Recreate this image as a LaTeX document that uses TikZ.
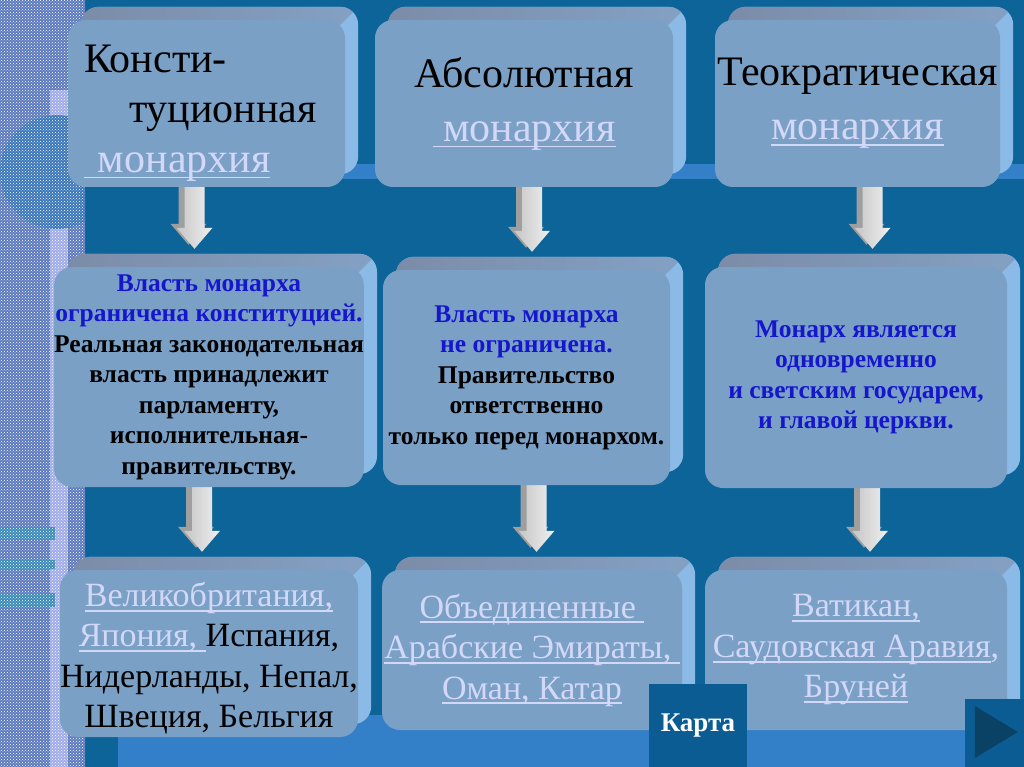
\documentclass[tikz,border=0pt]{standalone}
\usepackage{fontspec}
\setmainfont{Liberation Serif}
\usetikzlibrary{calc,patterns}

\definecolor{bgdark}{RGB}{12,100,152}
\definecolor{bgband}{RGB}{52,128,200}
\definecolor{stripbase}{RGB}{92,122,190}
\definecolor{stripglow}{RGB}{160,172,234}
\definecolor{stripdisc}{RGB}{58,118,186}
\definecolor{stripbar}{RGB}{58,138,184}
\definecolor{boxfront}{RGB}{122,160,198}
\definecolor{boxtop}{RGB}{124,140,168}
\definecolor{boxside}{RGB}{140,186,230}
\definecolor{linkcol}{RGB}{212,216,248}
\definecolor{leadblue}{RGB}{22,22,205}
\definecolor{navbox}{RGB}{10,92,146}
\definecolor{navtri}{RGB}{10,66,102}

% underlined link text
\newsavebox{\lnkbox}
\newcommand\lnk[1]{\leavevmode{\color{linkcol}\sbox{\lnkbox}{#1}\rlap{\rule[-.15em]{\wd\lnkbox}{1.8pt}}\usebox{\lnkbox}}}

\pgfdeclarelayer{back}
\pgfdeclarelayer{mid}
\pgfsetlayers{back,mid,main}

\tikzset{
  box/.style={fill=boxfront, rounded corners=18pt, inner sep=0pt},
  headfont/.style={font=\fontsize{42}{54}\selectfont},
  notefont/.style={font=\bfseries\fontsize{25.5}{30.5}\selectfont},
  landfont/.style={font=\fontsize{34}{40.5}\selectfont},
  navbtn/.style={fill=navbox, inner sep=0pt}
}

% 3D slab behind a box: light right face, grey top face
\newcommand\extrude[1]{%
  \fill[boxside, rounded corners=18pt] ($(#1.south west)+(13,-13)$) rectangle ($(#1.north east)+(13,-13)$);
  \begin{scope}
    \clip ($(#1.north east)+(30,-30)$) -- ($(#1.north east)+(-1000,-30)$) -- ($(#1.north east)+(-1000,1000)$) -- cycle;
    \shade[left color=boxtop, right color=boxtop!55!boxside, rounded corners=18pt] ($(#1.south west)+(13,-13)$) rectangle ($(#1.north east)+(13,-13)$);
  \end{scope}}

% grey block arrow, S = start, T = tip
\newcommand\arrowshape[2]{($(S)+(-10+#1,#2)$) -- ($(T)+(-10+#1,-21+#2)$) -- ($(T)+(-18+#1,-21+#2)$) -- ($(T)+(#1,#2)$) -- ($(T)+(18+#1,-21+#2)$) -- ($(T)+(10+#1,-21+#2)$) -- ($(S)+(10+#1,#2)$) -- cycle}
\newcommand\blockarrow[3]{%
  \coordinate (S) at ($(#1.south)+(#3,-6)$);
  \coordinate (T) at ($(S |- #2.north)+(0,-18)$);
  \fill[gray!75] \arrowshape{-6}{-4};
  \shade[left color=gray!45, right color=gray!12] \arrowshape{0}{0};}

\begin{document}
\begin{tikzpicture}[x=1pt, y=-1pt]
\useasboundingbox (0,0) rectangle (1024,767);

% backdrop
\begin{pgfonlayer}{back}
\fill[bgdark] (0,0) rectangle (1024,767);
\fill[bgband] (85,164) rectangle (1024,179);
\fill[bgband] (118,715) rectangle (1024,767);
\begin{scope}
  \clip (0,0) rectangle (85,767);
  \fill[stripbase] (0,0) rectangle (85,767);
  \fill[stripglow] (50,90) rectangle (68,767);
  \fill[stripdisc] (57,172) circle (57);
  \fill[stripbar] (0,527) rectangle (55,540);
  \fill[stripbar] (0,560) rectangle (55,569);
  \fill[stripbar] (0,593) rectangle (55,607);
  \fill[pattern=crosshatch dots, pattern color=white!45] (0,0) rectangle (85,767);
\end{scope}
\end{pgfonlayer}

% Row 1 — kinds of monarchy
\node[box, font=\fontsize{42}{50}\selectfont, minimum width=277pt, minimum height=167pt, text width=245pt, align=left] (constkind) at (206.5,103.5)
  {\rule{0pt}{46pt}Консти-\\\hspace*{45pt}туционная\\\lnk{\ монархия}};
\node[box, headfont, minimum width=298pt, minimum height=167pt, align=center] (abskind) at (524,103.5)
  {Абсолютная\\\lnk{\ монархия}};
\node[box, headfont, minimum width=285pt, minimum height=167pt, align=center] (theokind) at (857.5,103.5)
  {Теократическая\\\lnk{монархия}};

% Row 2 — power of the monarch
\node[box, notefont, minimum width=298pt, minimum height=220pt, align=center] (constpower) at (209,377)
  {\textcolor{leadblue}{Власть монарха}\\\textcolor{leadblue}{ограничена конституцией.}\\Реальная законодательная\\власть принадлежит\\парламенту,\\исполнительная-\\правительству.};
\node[box, notefont, minimum width=287pt, minimum height=215pt, align=center] (abspower) at (526.5,377.5)
  {\textcolor{leadblue}{Власть монарха}\\\textcolor{leadblue}{не ограничена.}\\Правительство\\ответственно\\только перед монархом.};
\node[box, notefont, text=leadblue, minimum width=302pt, minimum height=221pt, align=center] (theopower) at (856,377.5)
  {Монарх является\\одновременно\\и светским государем,\\и главой церкви.};

% Row 3 — countries
\node[box, landfont, minimum width=298pt, minimum height=167pt, align=center] (constlands) at (209,653.5)
  {\rule{0pt}{34pt}\lnk{Великобритания,}\\\lnk{Япония, }Испания,\\Нидерланды, Непал,\\Швеция, Бельгия};
\node[box, landfont, minimum width=300pt, minimum height=160pt, align=center] (abslands) at (532,650)
  {\lnk{Объединенные }\\\lnk{Арабские Эмираты, }\\\lnk{Оман, Катар}};
\node[box, landfont, minimum width=302pt, minimum height=160pt, align=center] (theolands) at (856,650)
  {\lnk{Ватикан,}\\\lnk{Саудовская Аравия}\textcolor{linkcol}{,}\\\lnk{Бруней}};

% slabs and arrows behind the boxes
\begin{pgfonlayer}{mid}
\foreach \b in {constkind,abskind,theokind,constpower,abspower,theopower,constlands,abslands,theolands}
  {\extrude{\b}}
\blockarrow{constkind}{constpower}{-12}
\blockarrow{abskind}{abspower}{8}
\blockarrow{theokind}{theopower}{15}
\blockarrow{constpower}{constlands}{-7}
\blockarrow{abspower}{abslands}{10}
\blockarrow{theopower}{theolands}{14}
\end{pgfonlayer}

% navigation buttons
\node[navbtn, minimum width=98pt, minimum height=83pt, text=white, font=\bfseries\fontsize{27}{27}\selectfont] (mapbtn) at (698,725.5) {Карта};
\node[navbtn, minimum width=59pt, minimum height=68pt] (nextbtn) at (994.5,733) {};
\fill[navtri] ($(nextbtn.west)+(10,-27)$) -- ($(nextbtn.west)+(10,25)$) -- ($(nextbtn.west)+(53,-1)$) -- cycle;

\end{tikzpicture}
\end{document}
